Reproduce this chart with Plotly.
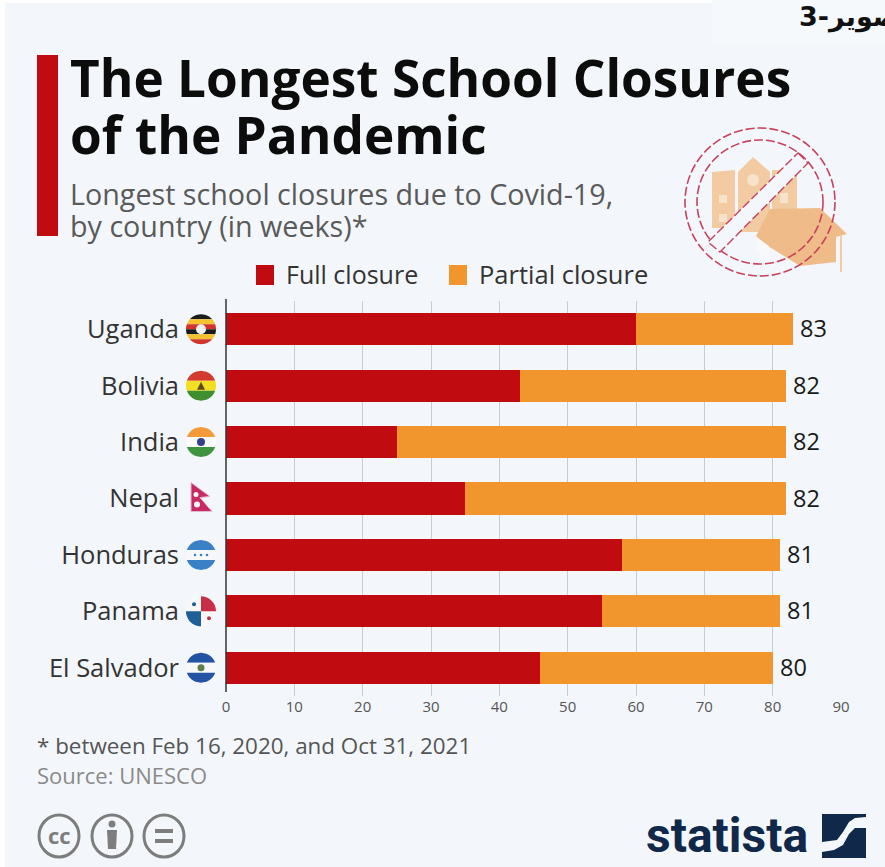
import math
import plotly.graph_objects as go

W, H = 885, 867

countries = ["Uganda", "Bolivia", "India", "Nepal", "Honduras", "Panama", "El Salvador"]
full_closure = [60, 43, 25, 35, 58, 55, 46]
partial_closure = [23, 39, 57, 47, 23, 26, 34]
total_weeks = [83, 82, 82, 82, 81, 81, 80]
x_ticks = [0, 10, 20, 30, 40, 50, 60, 70, 80, 90]

RED = "#c00b10"
ORANGE = "#f0962d"
PANEL = "#f3f7fb"
PLOT_L, PLOT_R, PLOT_T, PLOT_B = 226, 841, 301, 696
STEP = (PLOT_B - PLOT_T) / len(countries)


def px(x):
    return x / W


def py(y):
    return 1 - y / H


def poly(points, fill, line=None, width=0, dash=None, opacity=1):
    d = "M" + " L".join(f"{px(x):.5f},{py(y):.5f}" for x, y in points) + " Z"
    return dict(type="path", xref="paper", yref="paper", path=d, fillcolor=fill, opacity=opacity,
                line=dict(color=line or "rgba(0,0,0,0)", width=width, dash=dash or "solid"))


def rect(x0, y0, x1, y1, fill, layer="above"):
    return dict(type="rect", xref="paper", yref="paper", x0=px(x0), x1=px(x1), y0=py(y0), y1=py(y1),
                fillcolor=fill, line=dict(width=0), layer=layer)


def circle(cx, cy, rx, ry=None, fill="rgba(0,0,0,0)", line=None, width=0, dash="solid"):
    ry = rx if ry is None else ry
    return dict(type="circle", xref="paper", yref="paper", x0=px(cx - rx), x1=px(cx + rx),
                y0=py(cy - ry), y1=py(cy + ry), fillcolor=fill,
                line=dict(color=line or "rgba(0,0,0,0)", width=width, dash=dash))


def disc_band(cx, cy, r, top, bottom, fill):
    """Horizontal slice of a disc, top/bottom given as offsets from its centre."""
    pts = []
    n = 10
    for i in range(n + 1):
        y = top + (bottom - top) * i / n
        pts.append((cx + math.sqrt(max(r * r - y * y, 0)), cy + y))
    for i in range(n, -1, -1):
        y = top + (bottom - top) * i / n
        pts.append((cx - math.sqrt(max(r * r - y * y, 0)), cy + y))
    return poly(pts, fill)


def disc_sector(cx, cy, r, a0, a1, fill):
    pts = [(cx, cy)]
    for i in range(13):
        a = math.radians(a0 + (a1 - a0) * i / 12)
        pts.append((cx + r * math.cos(a), cy + r * math.sin(a)))
    return poly(pts, fill)


def striped(cx, cy, r, colours):
    h = 2 * r / len(colours)
    return [disc_band(cx, cy, r, -r + i * h, -r + (i + 1) * h, c) for i, c in enumerate(colours)]


def flag_shapes(name, cx, cy):
    r = 15
    if name == "Uganda":
        s = striped(cx, cy, r, ["#1c1c1c", "#f4c430", "#d3352c", "#1c1c1c", "#f4c430", "#d3352c"])
        s.append(circle(cx, cy, 5, fill="#f2f2f2"))
        return s
    if name == "Bolivia":
        s = striped(cx, cy, r, ["#d3392e", "#f3df22", "#3f8f2e"])
        s.append(poly([(cx - 4, cy + 4), (cx, cy - 4), (cx + 4, cy + 4)], "#5a4a1e"))
        return s
    if name == "India":
        s = striped(cx, cy, r, ["#f39a3a", "#fafafa", "#3f9440"])
        s.append(circle(cx, cy, 4, fill="#33408f"))
        return s
    if name == "Nepal":
        return [
            poly([(cx - 10, cy - 16), (cx + 9, cy - 2), (cx - 1, cy - 1), (cx + 11, cy + 13), (cx - 10, cy + 13)],
                 "#c72a63", "#e8b8cf", 1),
            circle(cx - 5, cy - 4, 2.5, fill="#f6f6f6"),
            circle(cx - 4, cy + 6, 3, fill="#f6f6f6"),
        ]
    if name == "Honduras":
        s = striped(cx, cy, r, ["#3a80c6", "#f8f8f8", "#3a80c6"])
        for dx in (-6, 0, 6):
            s.append(circle(cx + dx, cy, 1.3, fill="#3a80c6"))
        return s
    if name == "Panama":
        return [
            circle(cx, cy, r, fill="#f8f8f8"),
            disc_sector(cx, cy, r, 270, 360, "#c62f45"),
            disc_sector(cx, cy, r, 90, 180, "#1d5f96"),
            circle(cx - 7, cy - 7, 2, fill="#1d5f96"),
            circle(cx + 8, cy + 7, 2, fill="#c62f45"),
        ]
    s = striped(cx, cy, r, ["#2452a4", "#f8f8f8", "#2452a4"])
    s.append(circle(cx, cy, 3.5, fill="#5f7f4a"))
    return s


shapes = [
    rect(5, 3, W, H, PANEL, "below"),
    rect(712, 0, W, 45, "#f6f9fc", "below"),
    rect(37, 55, 58, 236, RED),
    # legend swatches
    rect(256, 265, 274, 285, RED),
    rect(449, 265, 467, 285, ORANGE),
    # axis baseline
    dict(type="line", xref="paper", yref="paper", x0=px(PLOT_L), x1=px(PLOT_L),
         y0=py(299), y1=py(692), line=dict(color="#333333", width=1.5)),
]

for i, name in enumerate(countries):
    shapes += flag_shapes(name, 201, PLOT_T + STEP * (i + 0.5))

# school building and graduation cap behind the prohibition sign
ICON = "#f2cba3"
RING = "#c8425c"
shapes += [
    poly([(712, 172), (735, 170), (735, 228), (712, 228)], ICON),
    poly([(738, 172), (753, 157), (770, 172), (770, 232), (738, 232)], ICON),
    poly([(772, 170), (797, 170), (797, 226), (772, 226)], ICON),
    poly([(770, 209), (820, 208), (847, 234), (836, 237), (836, 262), (800, 266), (768, 246), (756, 236)], "#efbb88"),
    poly([(757, 238), (769, 246), (769, 262), (757, 250)], "#f8f9fb"),
    rect(840, 236, 842, 272, ICON),
    circle(753, 180, 6, fill="#f7e3cc"),
    rect(719, 195, 727, 203, "#f7e3cc"),
    rect(719, 214, 727, 222, "#f7e3cc"),
    rect(780, 193, 788, 203, "#f7e3cc"),
    # prohibition ring with the diagonal slash
    circle(760, 202, 75, 74, line=RING, width=1.6, dash="9px,3px"),
    circle(760, 202, 63, 62, line=RING, width=1.6, dash="9px,3px"),
    poly([(798, 153), (808, 163), (720, 252), (708, 242)], PANEL, RING, 1.4, "9px,3px"),
]

# licence badges
for cx in (59, 112, 164):
    shapes.append(circle(cx, 836, 20, 21, fill="rgba(0,0,0,0)", line="#7d7d7d", width=3))
shapes += [
    circle(112, 824, 3.5, fill="#7d7d7d"),
    poly([(107, 830), (117, 830), (116, 849), (108, 849)], "#7d7d7d"),
    rect(155, 829, 173, 833, "#7d7d7d"),
    rect(155, 839, 173, 843, "#7d7d7d"),
]

# statista mark
NAVY = "#10294a"
shapes += [
    poly([(822, 814), (866, 814), (866, 817), (855, 818), (849, 822), (843, 832), (837, 840), (822, 842)], NAVY),
    poly([(866, 828), (855, 828), (849, 834), (843, 845), (834, 850), (822, 852), (822, 858), (866, 858)], NAVY),
]


def label(text, x, y, size, color="#222222", font="Open Sans", bold=False, anchor="left"):
    shown = f"<b>{text}</b>" if bold else text
    return dict(text=shown, x=px(x), y=py(y), xref="paper", yref="paper", xanchor=anchor, yanchor="middle",
                showarrow=False, font=dict(family=font, size=size, color=color))


annotations = [
    label("The Longest School Closures", 68, 77, 51.3, "#0c0c0c", bold=True),
    label("of the Pandemic", 68, 134, 51.3, "#0c0c0c", bold=True),
    label("Longest school closures due to Covid-19,", 68, 194, 28.7, "#5a5a5a"),
    label("by country (in weeks)*", 68, 226, 28.7, "#5a5a5a"),
    label("Full closure", 284, 274, 25, "#333333"),
    label("Partial closure", 477, 274, 25.5, "#333333"),
    label("* between Feb 16, 2020, and Oct 31, 2021", 35, 745, 22.4, "#555555"),
    label("Source: UNESCO", 35, 775, 22, "#8a8a8a"),
    label("statista", 644, 835, 48, NAVY, "Roboto", True),
    label("3-تصویر", 797, 17, 27, "#111111", "DejaVu Sans", True),
    label("cc", 59, 835, 22, "#7d7d7d", "Open Sans", True, "center"),
]

fig = go.Figure()
fig.add_bar(name="Full closure", y=countries, x=full_closure, orientation="h",
            marker=dict(color=RED, line=dict(width=0)), showlegend=False)
fig.add_bar(name="Partial closure", y=countries, x=partial_closure, orientation="h",
            marker=dict(color=ORANGE, line=dict(width=0)), showlegend=False)

# week totals written just past the end of each stacked bar
for name, total in zip(countries, total_weeks):
    annotations.append(dict(text=str(total), x=total, y=name, xref="x", yref="y", xanchor="left",
                            yanchor="middle", xshift=5, yshift=1, showarrow=False,
                            font=dict(family="Open Sans", size=23.5, color="#1a1a1a")))

fig.update_layout(
    width=W, height=H, margin=dict(l=0, r=0, t=0, b=0),
    paper_bgcolor="white", plot_bgcolor="rgba(0,0,0,0)",
    barmode="stack", bargap=0.43,
    shapes=shapes, annotations=annotations,
    xaxis=dict(domain=[px(PLOT_L), px(PLOT_R)], range=[0, 90], tickvals=x_ticks, showgrid=True, automargin=False,
               gridcolor="#c9ccd0", gridwidth=1, zeroline=False, showline=False, anchor="y",
               ticks="", tickfont=dict(family="Open Sans", size=15, color="#555555"), ticklabelstandoff=0),
    yaxis=dict(domain=[py(PLOT_B), py(PLOT_T)], categoryorder="array", categoryarray=countries, automargin=False,
               autorange="reversed", showgrid=False, zeroline=False, showline=False, ticks="",
               ticklabelstandoff=46, tickfont=dict(family="Open Sans", size=25.5, color="#333333")),
)

fig.write_html("out.html")
